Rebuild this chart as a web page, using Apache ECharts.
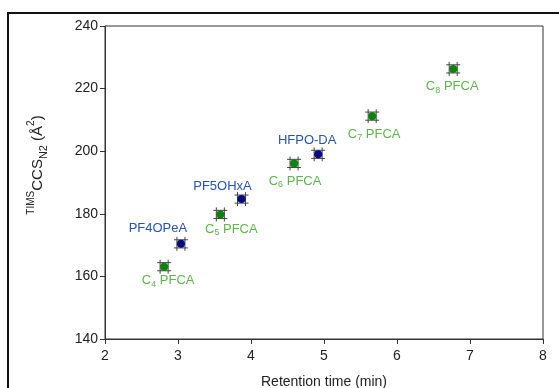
<!DOCTYPE html>
<html>
<head>
<meta charset="utf-8">
<script src="https://cdn.jsdelivr.net/npm/echarts@6/dist/echarts.min.js"></script>
<style>
  html, body { margin: 0; padding: 0; background: #fff; }
  #chart { width: 559px; height: 388px; }
</style>
</head>
<body>
<div id="chart"></div>
<script>
// PFCA homologues (green)
const pfcaCarbons = [4, 5, 6, 7, 8];
const pfcaRt = [2.81, 3.58, 4.59, 5.66, 6.77];
const pfcaCcs = [163.1, 179.8, 196.1, 211.2, 226.3];

// ether PFAS (blue)
const etherNames = ['PF4OPeA', 'PF5OHxA', 'HFPO-DA'];
const etherRt = [3.04, 3.87, 4.92];
const etherCcs = [170.4, 184.7, 199.0];

// error bars (same for all points)
const rtErr = 0.055;
const ccsErr = 1.3;

const xTicks = [2, 3, 4, 5, 6, 7, 8];
const yTicks = [140, 160, 180, 200, 220, 240];

const FONT = '"Liberation Sans", Arial, sans-serif';
const green = '#0b840b';
const navy = '#0a0a80';
const greenText = '#5db64c';
const blueText = '#2552b5';

// label offsets, picked by eye (px)
const pfcaLabelOff = [[4, 14], [11, 15], [1, 18], [2, 18], [-1, 18]];
const etherLabelOff = [[-23, -15], [-19, -13], [-11, -14]];

const chart = echarts.init(document.getElementById('chart'));

function errBars(params, api) {
  const x = api.value(0), y = api.value(1);
  const c = api.coord([x, y]);
  const l = api.coord([x - rtErr, y]);
  const r = api.coord([x + rtErr, y]);
  const t = api.coord([x, y + ccsErr]);
  const b = api.coord([x, y - ccsErr]);
  const cap = 7;
  const st = { stroke: '#444', lineWidth: 1 };
  const line = (x1, y1, x2, y2) => ({ type: 'line', shape: { x1, y1, x2, y2 }, style: st });
  return {
    type: 'group',
    children: [
      line(l[0], c[1], r[0], c[1]),
      line(l[0], c[1] - cap, l[0], c[1] + cap),
      line(r[0], c[1] - cap, r[0], c[1] + cap),
      line(c[0], t[1], c[0], b[1]),
      line(c[0] - cap, t[1], c[0] + cap, t[1]),
      line(c[0] - cap, b[1], c[0] + cap, b[1])
    ]
  };
}

const allPts = pfcaRt.map((x, i) => [x, pfcaCcs[i]]).concat(etherRt.map((x, i) => [x, etherCcs[i]]));

const option = {
  animation: false,
  graphic: [
    {
      type: 'rect',
      shape: { x: 8, y: 13, width: 600, height: 420 },
      style: { fill: 'none', stroke: '#111', lineWidth: 2 },
      z: 0
    },
    {
      type: 'text',
      x: 38,
      y: 165,
      rotation: Math.PI / 2,
      style: {
        text: '{sup|TIMS}{m|CCS}{sub|N2}{m| (Å}{sup|2}{m|)}',
        align: 'center',
        verticalAlign: 'middle',
        fill: '#222',
        rich: {
          m: { fontFamily: FONT, fontSize: 15, lineHeight: 23, fill: '#222' },
          sup: { fontFamily: FONT, fontSize: 10, lineHeight: 11, verticalAlign: 'top', fill: '#222' },
          sub: { fontFamily: FONT, fontSize: 11, lineHeight: 11, verticalAlign: 'bottom', fill: '#222' }
        }
      }
    }
  ],
  grid: {
    left: 105, right: 16, top: 26, bottom: 49,
    outerBoundsMode: 'none',
    show: true, borderColor: '#333', borderWidth: 1
  },
  xAxis: {
    type: 'value',
    min: xTicks[0],
    max: xTicks[xTicks.length - 1],
    interval: 1,
    name: 'Retention time (min)',
    nameLocation: 'middle',
    nameGap: 36,
    nameTextStyle: { fontFamily: FONT, fontSize: 14, color: '#222' },
    axisLine: { lineStyle: { color: '#333' } },
    axisTick: { show: true, length: 5, lineStyle: { color: '#333' } },
    axisLabel: { fontFamily: FONT, fontSize: 14, color: '#222', margin: 10 },
    splitLine: { show: false }
  },
  yAxis: {
    type: 'value',
    min: yTicks[0],
    max: yTicks[yTicks.length - 1],
    interval: 20,
    axisLine: { show: true, lineStyle: { color: '#333' } },
    axisTick: { show: true, length: 5, lineStyle: { color: '#333' } },
    axisLabel: { fontFamily: FONT, fontSize: 14, color: '#222', margin: 7 },
    splitLine: { show: false }
  },
  series: [
    {
      type: 'custom',
      renderItem: errBars,
      data: allPts,
      z: 2,
      silent: true
    },
    {
      type: 'scatter',
      symbol: 'circle',
      symbolSize: 8,
      itemStyle: { color: green, opacity: 1 },
      z: 3,
      data: pfcaRt.map((x, i) => ({
        value: [x, pfcaCcs[i]],
        label: {
          show: true,
          position: 'inside',
          offset: pfcaLabelOff[i],
          formatter: '{c|C}{s|' + pfcaCarbons[i] + '}{c| PFCA}',
          rich: {
            c: { fontFamily: FONT, fontSize: 13, lineHeight: 16, color: greenText },
            s: { fontFamily: FONT, fontSize: 9, lineHeight: 9, verticalAlign: 'bottom', color: greenText }
          }
        }
      }))
    },
    {
      type: 'scatter',
      symbol: 'circle',
      symbolSize: 8,
      itemStyle: { color: navy, opacity: 1 },
      z: 3,
      data: etherRt.map((x, i) => ({
        value: [x, etherCcs[i]],
        label: {
          show: true,
          position: 'inside',
          offset: etherLabelOff[i],
          formatter: etherNames[i],
          fontFamily: FONT,
          fontSize: 13,
          color: blueText
        }
      }))
    }
  ]
};

chart.setOption(option);
</script>
</body>
</html>
